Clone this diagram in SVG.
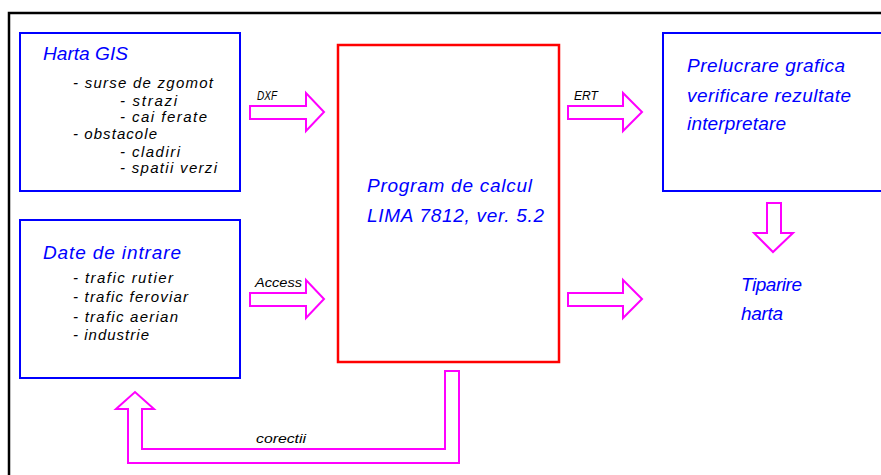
<svg xmlns="http://www.w3.org/2000/svg" width="881" height="475" viewBox="0 0 881 475">
<style>
.box{fill:none;stroke:#0000ff;stroke-width:2}
.main{fill:none;stroke:#ff0000;stroke-width:2.5}
.arr{fill:#fff;stroke:#ff00ff;stroke-width:2;stroke-linejoin:miter}
.frame{fill:none;stroke:#000;stroke-width:2.5}
text{font-family:"Liberation Sans",Arial,sans-serif;font-style:italic}
.t{fill:#0000ff;font-size:19px}
.i{fill:#000;font-size:15px}
.l{fill:#000;font-size:13px}
</style>
<rect width="881" height="475" fill="#fff"/>
<path class="frame" d="M9,475 V13 H882"/>
<g id="harta">
<rect class="box" x="20" y="33" width="220" height="158"/>
<text class="t" x="43" y="60" textLength="85" lengthAdjust="spacingAndGlyphs">Harta GIS</text>
<text class="i" x="73" y="88" textLength="140" lengthAdjust="spacing">- surse de zgomot</text>
<text class="i" x="120" y="106" textLength="57" lengthAdjust="spacing">- strazi</text>
<text class="i" x="120" y="122" textLength="87" lengthAdjust="spacing">- cai ferate</text>
<text class="i" x="73" y="139" textLength="84" lengthAdjust="spacing">- obstacole</text>
<text class="i" x="120" y="157" textLength="60" lengthAdjust="spacing">- cladiri</text>
<text class="i" x="120" y="173" textLength="97" lengthAdjust="spacing">- spatii verzi</text>
</g>
<g id="date">
<rect class="box" x="20" y="220" width="220" height="158"/>
<text class="t" x="43" y="259" textLength="138" lengthAdjust="spacing">Date de intrare</text>
<text class="i" x="73" y="283" textLength="100" lengthAdjust="spacing">- trafic rutier</text>
<text class="i" x="73" y="302" textLength="115" lengthAdjust="spacing">- trafic feroviar</text>
<text class="i" x="73" y="322" textLength="105" lengthAdjust="spacing">- trafic aerian</text>
<text class="i" x="73" y="340" textLength="76" lengthAdjust="spacing">- industrie</text>
</g>
<g id="program">
<rect class="main" x="338" y="45" width="221" height="317"/>
<text class="t" x="367" y="192" textLength="165" lengthAdjust="spacing">Program de calcul</text>
<text class="t" x="367" y="222" textLength="177" lengthAdjust="spacing">LIMA 7812, ver. 5.2</text>
</g>
<g id="prelucrare">
<rect class="box" x="663" y="33" width="240" height="158"/>
<text class="t" x="687" y="72" textLength="158" lengthAdjust="spacing">Prelucrare grafica</text>
<text class="t" x="687" y="102" textLength="164" lengthAdjust="spacing">verificare rezultate</text>
<text class="t" x="687" y="130" textLength="99" lengthAdjust="spacing">interpretare</text>
</g>
<g id="tiparire">
<text class="t" x="741" y="291" textLength="61" lengthAdjust="spacing">Tiparire</text>
<text class="t" x="741" y="320" textLength="42" lengthAdjust="spacing">harta</text>
</g>
<g id="connectors">
<polygon class="arr" points="250,106 306,106 306,93 324,112 306,131 306,119 250,119"/>
<text class="l" x="257" y="100" textLength="20" lengthAdjust="spacingAndGlyphs">DXF</text>
<polygon class="arr" points="250,293 306,293 306,280 324,299 306,318 306,306 250,306"/>
<text class="l" x="255" y="287" textLength="47" lengthAdjust="spacingAndGlyphs" font-style="normal">Access</text>
<polygon class="arr" points="568,106 623,106 623,93 642,112 623,131 623,119 568,119"/>
<text class="l" x="574" y="100" textLength="24" lengthAdjust="spacingAndGlyphs">ERT</text>
<polygon class="arr" points="568,293 623,293 623,280 642,299 623,318 623,306 568,306"/>
<polygon class="arr" points="767,203 781,203 781,233 793,233 773,252 754,233 767,233"/>
<polygon class="arr" points="445,371 459,371 459,463 128,463 128,409 116,409 135,392 154,409 142,409 142,449 445,449"/>
<text class="l" x="256" y="443" textLength="50" lengthAdjust="spacingAndGlyphs">corectii</text>
</g>
</svg>
